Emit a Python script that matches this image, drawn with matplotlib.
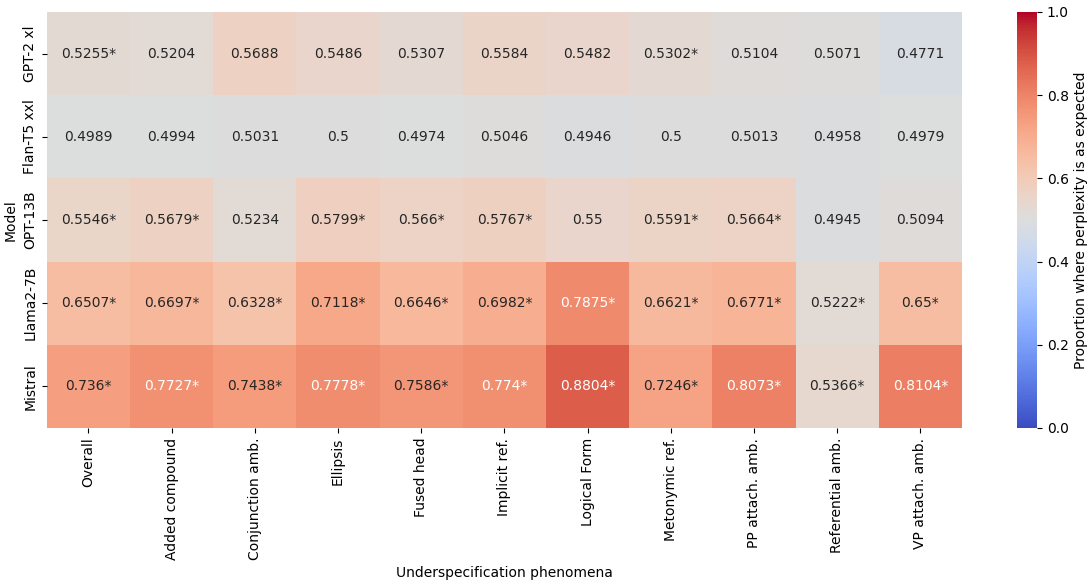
import numpy as np
import matplotlib
matplotlib.use('Agg')
import matplotlib.pyplot as plt
import seaborn as sns

models = ['GPT-2 xl', 'Flan-T5 xxl', 'OPT-13B', 'Llama2-7B', 'Mistral']
phenomena = ['Overall', 'Added compound', 'Conjunction amb.', 'Ellipsis', 'Fused head',
             'Implicit ref.', 'Logical Form', 'Metonymic ref.', 'PP attach. amb.',
             'Referential amb.', 'VP attach. amb.']

gpt2 = [0.5255, 0.5204, 0.5688, 0.5486, 0.5307, 0.5584, 0.5482, 0.5302, 0.5104, 0.5071, 0.4771]
flan = [0.4989, 0.4994, 0.5031, 0.5, 0.4974, 0.5046, 0.4946, 0.5, 0.5013, 0.4958, 0.4979]
opt = [0.5546, 0.5679, 0.5234, 0.5799, 0.566, 0.5767, 0.55, 0.5591, 0.5664, 0.4945, 0.5094]
llama = [0.6507, 0.6697, 0.6328, 0.7118, 0.6646, 0.6982, 0.7875, 0.6621, 0.6771, 0.5222, 0.65]
mistral = [0.736, 0.7727, 0.7438, 0.7778, 0.7586, 0.774, 0.8804, 0.7246, 0.8073, 0.5366, 0.8104]

# significance markers (asterisk in the original)
sig_gpt2 = [1, 0, 0, 0, 0, 0, 0, 1, 0, 0, 0]
sig_flan = [0] * 11
sig_opt = [1, 1, 0, 1, 1, 1, 0, 1, 1, 0, 0]
sig_llama = [1] * 11
sig_mistral = [1] * 11

values = np.array([gpt2, flan, opt, llama, mistral])
sig = np.array([sig_gpt2, sig_flan, sig_opt, sig_llama, sig_mistral])

labels = np.empty(values.shape, dtype=object)
for i in range(values.shape[0]):
    for j in range(values.shape[1]):
        labels[i, j] = f'{values[i, j]:g}' + ('*' if sig[i, j] else '')

fig = plt.figure(figsize=(10.9, 5.85), dpi=100)
ax = fig.add_axes([0.043, 0.2684, 0.8396, 0.7111])
cax = fig.add_axes([0.933, 0.2684, 0.0183, 0.7111])

sns.heatmap(values, annot=labels, fmt='', cmap='coolwarm', vmin=0, vmax=1,
            xticklabels=phenomena, yticklabels=models, ax=ax, cbar_ax=cax,
            cbar_kws={'label': 'Proportion where perplexity is as expected'},
            annot_kws={'fontsize': 10})
ax.set_xlabel('Underspecification phenomena')
ax.set_ylabel('Model')
ax.set_xticklabels(phenomena, rotation=90)
ax.set_yticklabels(models, rotation=90, va='center')

fig.savefig('out.png', dpi=100)
